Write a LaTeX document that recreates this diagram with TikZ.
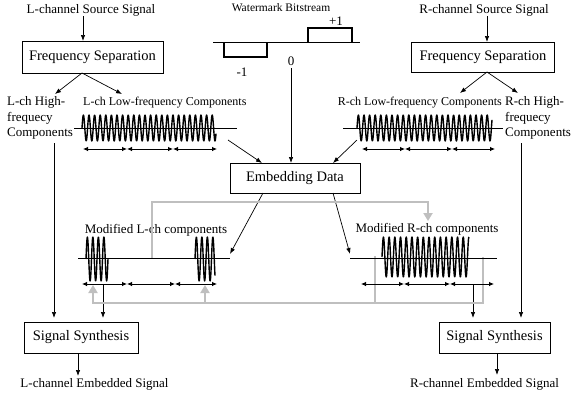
\documentclass[tikz,border=0pt]{standalone}
\usepackage{fontspec}
\setmainfont{Liberation Serif}
\usetikzlibrary{arrows.meta}
\begin{document}
\begin{tikzpicture}[x=1pt,y=-1pt,
  lbl/.style={font=\fontsize{13}{15.5}\selectfont, inner sep=0pt},
  lowlbl/.style={font=\fontsize{12}{14}\selectfont, inner sep=0pt},
  wmlbl/.style={font=\fontsize{11.5}{14}\selectfont, inner sep=0pt},
  box/.style={draw, line width=0.8pt, font=\fontsize{14.5}{17}\selectfont, inner sep=0pt},
  conn/.style={line width=0.7pt, -{Latex[length=6pt,width=4.5pt]}},
  span/.style={line width=0.8pt, {Latex[length=5pt,width=4.5pt]}-{Latex[length=5pt,width=4.5pt]}},
  fb/.style={draw=black!25, line width=2.8pt},
  fbarrow/.style={fb, -{Triangle[length=8pt,width=9pt]}},
  wave/.style={line width=1.4pt, line join=round},
  base/.style={line width=0.8pt},
  pulse/.style={line width=1.3pt},
  ]
\useasboundingbox (0,0) rectangle (571,397);

% ---------- boxes ----------
\node[box, minimum width=141pt, minimum height=32pt] (lfs) at (92.5,57) {Frequency Separation};
\node[box, minimum width=143pt, minimum height=30pt] (rfs) at (483,57) {Frequency Separation};
\node[box, minimum width=130pt, minimum height=30pt] (emb) at (295,178) {Embedding Data};
\node[box, minimum width=114pt, minimum height=31pt] (lsyn) at (81,337.5) {Signal Synthesis};
\node[box, minimum width=111pt, minimum height=31pt] (rsyn) at (494.5,337.5) {Signal Synthesis};

% ---------- labels ----------
\node[lbl] (lsrc) at (91,10) {L-channel Source Signal};
\node[lbl] (rsrc) at (484,10) {R-channel Source Signal};
\node[wmlbl] (wm) at (281,8) {Watermark Bitstream};
\node[lbl] (pone) at (336,21) {+1};
\node[lbl] (mone) at (242,72) {-1};
\node[lbl] (zero) at (291,61) {0};
\node[lbl, anchor=west, align=left] (lhigh) at (7,118) {L-ch High-\\frequecy\\Components};
\node[lbl, anchor=west, align=left] (rhigh) at (505,118) {R-ch High-\\frequecy\\Components};
\node[lowlbl, anchor=west] (llow) at (83,103) {L-ch Low-frequency Components};
\node[lowlbl, anchor=east] (rlow) at (502,103) {R-ch Low-frequency Components};
\node[lbl] (lmod) at (156,230) {Modified L-ch components};
\node[lbl] (rmod) at (427,229) {Modified R-ch components};
\node[lbl] (lout) at (94.5,384) {L-channel Embedded Signal};
\node[lbl] (rout) at (484.5,384) {R-channel Embedded Signal};

% ---------- connection points ----------
\coordinate (lin) at (83,41);
\coordinate (lapex) at (82,73);
\coordinate (lhtip) at (55,94);
\coordinate (lltip) at (122,94);
\coordinate (rin) at (487,42);
\coordinate (rapex) at (487,72);
\coordinate (rltip) at (460,93);
\coordinate (rhtip) at (518,93);
\coordinate (wmtop) at (291,68);
\coordinate (embwm) at (291,163);
\coordinate (lwend) at (228,140);
\coordinate (embl) at (262,163);
\coordinate (rwend) at (357,140);
\coordinate (embr) at (333,163);
\coordinate (embbl) at (263,193);
\coordinate (embbr) at (333,193);
\coordinate (lmodend) at (230,254);
\coordinate (rmodend) at (350,254);
\coordinate (lhtop) at (54,143);
\coordinate (lhbot) at (54,318);
\coordinate (lstop) at (103,284);
\coordinate (lsbot) at (103,318);
\coordinate (rhtop) at (521,143);
\coordinate (rhbot) at (521,318);
\coordinate (rstop) at (473,284);
\coordinate (rsbot) at (473,318);
\coordinate (lsynout) at (78,353);
\coordinate (loutin) at (78,376);
\coordinate (rsynout) at (497,353);
\coordinate (routin) at (497,375);

% ---------- watermark bitstream ----------
\draw[base] (213,42) -- (360,42);
\draw[pulse] (224,42) -- (224,57) -- (267,57) -- (267,42);
\draw[pulse] (308,42) -- (308,28) -- (352,28) -- (352,42);

% ---------- black connectors ----------
\draw[conn] (lsrc.south -| lin) -- (lin);
\draw[conn] (lapex) -- (lhtip);
\draw[conn] (lapex) -- (lltip);
\draw[conn] (rsrc.south -| rin) -- (rin);
\draw[conn] (rapex) -- (rltip);
\draw[conn] (rapex) -- (rhtip);
\draw[conn] (wmtop) -- (embwm);
\draw[conn] (lwend) -- (embl);
\draw[conn] (rwend) -- (embr);
\draw[conn] (embbl) -- (lmodend);
\draw[conn] (embbr) -- (rmodend);
\draw[conn] (lhtop) -- (lhbot);
\draw[conn] (lstop) -- (lsbot);
\draw[conn] (rhtop) -- (rhbot);
\draw[conn] (rstop) -- (rsbot);
\draw[conn] (lsynout) -- (loutin);
\draw[conn] (rsynout) -- (routin);

% ---------- grey feedback paths ----------
\draw[fbarrow] (152,258) -- (152,202) -- (428,202) -- (428,221);
\draw[fbarrow] (483,257) -- (483,303) -- (93,303) -- (93,285);
\draw[fb] (375,256) -- (375,303);
\draw[fbarrow] (205,303) -- (205,285);

% ---------- low-frequency components ----------
\draw[base] (74,128) -- (237,128);
\draw[wave] plot[domain=0:134, samples=400] ({82+\x},{128-13*sin(64.2857*\x)});
\draw[base] (343,128) -- (503,128);
\draw[wave] plot[domain=0:135, samples=400] ({357+\x},{128-13*sin(64.2857*\x)});

\draw[span] (83,149) -- (127,149);
\draw[span] (127,149) -- (173,149);
\draw[span] (173,149) -- (217,149);
\draw[span] (362,149) -- (405,149);
\draw[span] (405,149) -- (452,149);
\draw[span] (452,149) -- (495,149);

% ---------- modified components ----------
\draw[base] (78,258) -- (230,258);
\draw[wave] plot[domain=0:22, samples=80] ({86+\x},{259-22*sin(65.4545*\x)});
\draw[wave] plot[domain=0:20, samples=80] ({195+\x},{259-22*sin(65.4545*\x)});
\draw[base] (350,258) -- (497,258);
\draw[wave] plot[domain=0:87, samples=320] ({382+\x},{257-20*sin(63.158*\x)});

\draw[span] (82,284) -- (127,284);
\draw[span] (127,284) -- (175,284);
\draw[span] (175,284) -- (217,284);
\draw[span] (361,284) -- (404,284);
\draw[span] (404,284) -- (450,284);
\draw[span] (450,284) -- (494,284);
\end{tikzpicture}
\end{document}
